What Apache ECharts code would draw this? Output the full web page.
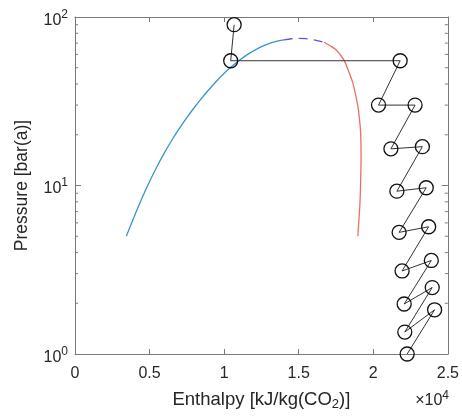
<!DOCTYPE html>
<html>
<head>
<meta charset="utf-8">
<script src="https://cdn.jsdelivr.net/npm/echarts@6/dist/echarts.min.js"></script>
<style>
  html, body { margin: 0; padding: 0; background: #fff; }
  #chart { width: 462px; height: 416px; }
</style>
</head>
<body>
<div id="chart"></div>
<script>
// Enthalpy in kJ/kg(CO2), pressure in bar(a)

// Saturated liquid branch
const liquidH = [3440, 4000, 4500, 5000, 5500, 6000, 6500, 7000, 7500, 8000, 8500, 9000, 9500, 10000, 10500, 11000, 11500, 12000, 12500, 13000, 13500, 14000];
const liquidP = [5, 6.64, 8.45, 10.57, 12.97, 15.67, 18.62, 21.83, 25.29, 29.04, 33.04, 37.24, 41.69, 46.34, 50.8, 55.2, 59.4, 63.2, 66.7, 69.5, 71.6, 73.1];

// Near-critical region (dashed)
const criticalH = [14000, 14500, 15000, 15500, 16000, 16700];
const criticalP = [73.1, 74.3, 74.7, 74.4, 73.2, 70.8];

// Saturated vapour branch
const vapourH = [16700, 17100, 17500, 17800, 18070, 18350, 18620, 18800, 18960, 19080, 19150, 19180, 19160, 19110, 19040, 18960];
const vapourP = [70.8, 67.5, 64, 59.5, 54.7, 47.5, 40.8, 35, 29.8, 24.5, 20.5, 15.5, 11.5, 8, 6.3, 5];

// Process path through the cycle states
const cycleH = [10670, 10440, 21800, 20350, 22800, 21180, 23290, 21580, 23550, 21730, 23710, 21930, 23890, 22070, 23950, 22110, 24110, 22270];
const cycleP = [90, 55, 55, 30, 30, 16.5, 17, 9.25, 9.7, 5.27, 5.69, 3.11, 3.59, 1.98, 2.48, 1.35, 1.83, 1.0];

// Axis ticks
const xTicks = [0, 5000, 10000, 15000, 20000, 25000];
const yMinorTicks = [2, 3, 4, 5, 6, 7, 8, 9, 20, 30, 40, 50, 60, 70, 80, 90];

const zip = (a, b) => a.map((v, i) => [v, b[i]]);

const FONT = 'Liberation Sans, Arial, sans-serif';
const AXIS_COLOR = '#7a7a7a';
const TEXT_COLOR = '#262626';

const chart = echarts.init(document.getElementById('chart'), null, { renderer: 'canvas' });

const supRich = {
  b: { fontSize: 16, fontFamily: FONT, color: TEXT_COLOR, padding: [7, 0, 0, 0] },
  s: { fontSize: 12, fontFamily: FONT, color: TEXT_COLOR, padding: [0, 0, 5, 0] }
};

const option = {
  animation: false,
  backgroundColor: '#fff',
  grid: { left: 75, right: 12, top: 17, bottom: 58, containLabel: false },
  xAxis: [
    {
      type: 'value', min: xTicks[0], max: xTicks[xTicks.length - 1], interval: 5000,
      axisLine: { show: true, lineStyle: { color: AXIS_COLOR, width: 1 } },
      axisTick: { show: true, inside: true, length: 5, lineStyle: { color: AXIS_COLOR } },
      axisLabel: {
        fontSize: 16, fontFamily: FONT, color: TEXT_COLOR, margin: 12,
        formatter: v => String(v / 10000)
      },
      splitLine: { show: false },
      name: 'Enthalpy [kJ/kg(CO{sub|2})]',
      nameLocation: 'middle', nameGap: 34,
      nameTextStyle: {
        fontSize: 18.5, fontFamily: FONT, color: TEXT_COLOR,
        rich: { sub: { fontSize: 13, fontFamily: FONT, color: TEXT_COLOR, padding: [10, 0, 0, 0] } }
      }
    },
    {
      type: 'value', position: 'top', min: xTicks[0], max: xTicks[xTicks.length - 1], interval: 5000,
      axisLine: { show: true, onZero: false, lineStyle: { color: AXIS_COLOR, width: 1 } },
      axisTick: { show: true, inside: true, length: 5, lineStyle: { color: AXIS_COLOR } },
      axisLabel: { show: false }, splitLine: { show: false }
    }
  ],
  yAxis: [
    {
      type: 'log', logBase: 10, min: 1, max: 100,
      axisLine: { show: true, onZero: false, lineStyle: { color: AXIS_COLOR, width: 1 } },
      axisTick: { show: true, inside: true, length: 6, lineStyle: { color: AXIS_COLOR } },
      axisLabel: {
        margin: 7,
        formatter: v => '{b|10}{s|' + Math.round(Math.log10(v)) + '}',
        rich: supRich
      },
      splitLine: { show: false },
      name: 'Pressure [bar(a)]',
      nameLocation: 'middle', nameGap: 44, nameRotate: 90,
      nameTextStyle: { fontSize: 17.5, fontFamily: FONT, color: TEXT_COLOR }
    },
    {
      type: 'log', logBase: 10, min: 1, max: 100, position: 'right',
      axisLine: { show: true, onZero: false, lineStyle: { color: AXIS_COLOR, width: 1 } },
      axisTick: { show: true, inside: true, length: 6, lineStyle: { color: AXIS_COLOR } },
      axisLabel: { show: false }, splitLine: { show: false }
    }
  ],
  graphic: [
    {
      type: 'text', right: 13, top: 390,
      style: {
        text: '×10{s|4}',
        fontSize: 16, fontFamily: FONT, fill: TEXT_COLOR,
        rich: { s: { fontSize: 12, fontFamily: FONT, fill: TEXT_COLOR, padding: [0, 0, 9, 0] } }
      }
    }
  ],
  series: [
    {
      // Minor log ticks on left and right edges
      type: 'custom', xAxisIndex: 0, yAxisIndex: 0, silent: true, clip: false,
      data: yMinorTicks.map(v => [xTicks[0], v]),
      renderItem: (params, api) => {
        const v = api.value(1);
        const l = api.coord([xTicks[0], v]);
        const r = api.coord([xTicks[xTicks.length - 1], v]);
        const st = { stroke: AXIS_COLOR, lineWidth: 1 };
        return {
          type: 'group',
          children: [
            { type: 'line', shape: { x1: l[0], y1: l[1], x2: l[0] + 3, y2: l[1] }, style: st },
            { type: 'line', shape: { x1: r[0], y1: r[1], x2: r[0] - 3, y2: r[1] }, style: st }
          ]
        };
      }
    },
    {
      type: 'line', data: zip(liquidH, liquidP), smooth: 0.3, showSymbol: false,
      lineStyle: { color: '#3b93c9', width: 1.3 }
    },
    {
      type: 'line', data: zip(criticalH, criticalP), smooth: 0.3, showSymbol: false,
      lineStyle: { color: '#5a5ad6', width: 1.3, type: [9, 6] }
    },
    {
      type: 'line', data: zip(vapourH, vapourP), smooth: 0.3, showSymbol: false,
      lineStyle: { color: '#ee6f5e', width: 1.3 }
    },
    {
      type: 'line', data: zip(cycleH, cycleP), symbol: 'circle', symbolSize: 14, showSymbol: true,
      lineStyle: { color: '#333', width: 1 },
      itemStyle: { color: 'rgba(0,0,0,0)', borderColor: '#111', borderWidth: 1.3 }
    }
  ]
};

chart.setOption(option);
</script>
</body>
</html>
